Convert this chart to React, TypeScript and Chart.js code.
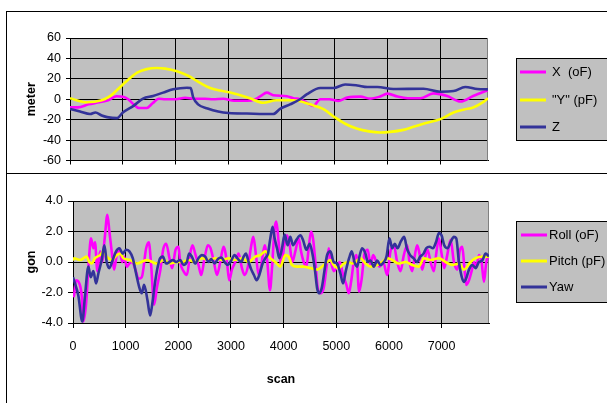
import React, { useEffect, useRef } from "react";
import { Chart, registerables } from "chart.js";

Chart.register(...registerables);

const FONT = 'Arial, "Liberation Sans", sans-serif';

// ---------- Top panel (meter) ----------
const xOF: [number, number][] = [
  [0, -8], [150, -8], [350, -5], [550, -3], [720, -1], [880, 3], [1000, 2.5], [1100, 0], [1200, -5],
  [1300, -8.5], [1450, -8.5], [1560, -4], [1680, 0.5], [1800, 0], [2000, 0], [2175, 1.5], [2350, 0.5],
  [2550, 0.5], [2700, 0], [2900, 0.5], [3100, -1.5], [3350, -1.5], [3500, 0], [3600, 3], [3720, 6.5],
  [3840, 4], [4100, 3], [4220, 1], [4350, 0], [4480, -3.5], [4600, -6.5], [4730, 0], [4900, 0],
  [5070, -1.6], [5240, 1.6], [5490, 2.6], [5670, 0.6], [5850, 2.5], [6000, 5.5], [6190, 2.6], [6380, 1],
  [6620, 1], [6870, 5.8], [7130, 3.2], [7380, -2.2], [7620, 3.2], [7900, 9],
];
const yPF: [number, number][] = [
  [0, 1], [320, -3], [600, -1], [757, 3], [1000, 14.5], [1270, 26], [1450, 29.5], [1640, 30.6],
  [1800, 30], [2020, 27.4], [2230, 23], [2460, 16], [2650, 11], [3030, 6.5], [3400, 1], [3650, -3.5],
  [3900, -1], [4220, -1], [4540, -5], [4800, -10], [5000, -17.5], [5200, -24], [5430, -29],
  [5650, -31.5], [5860, -32.5], [6050, -32], [6300, -30], [6490, -27], [6750, -23], [7000, -19.5],
  [7250, -13], [7450, -10], [7620, -8], [7800, -3], [7900, 1],
];
const zSeries: [number, number][] = [
  [0, -9.5], [190, -12], [380, -14.5], [480, -13], [600, -16], [700, -17.5], [890, -18.5], [1000, -13],
  [1200, -6.5], [1380, 0.7], [1570, 3.2], [1760, 6.5], [1950, 9.7], [2210, 11.3], [2280, 11], [2330, 1.6],
  [2420, -5], [2600, -9], [2800, -12], [3000, -13.5], [3340, -14], [3840, -14.5], [3970, -9.5],
  [4160, -5], [4350, 0], [4480, 5], [4730, 11], [4980, 11], [5200, 14.5], [5430, 13.5], [5620, 12],
  [5810, 12], [6110, 10], [6680, 10.3], [7000, 7.4], [7250, 8], [7470, 12], [7700, 10], [7900, 9.7],
];
const topLabels = ["X  (oF)", '"Y" (pF)', "Z"];
const topTicks = [-60, -40, -20, 0, 20, 40, 60];

// ---------- Bottom panel (gon) ----------
const rollOF: [number, number][] = [
  [0, -2.3], [19, -2.2], [57, -1.2], [120, -1.4], [165, -2.2], [196, -3.9], [247, -2.8], [292, -0.4],
  [342, 1.55], [387, 0.9], [418, 1.3], [463, -0.6], [514, 0.7], [551, 0], [602, 1.55], [653, 3.1],
  [691, 2.0], [735, 0.7], [780, -0.5], [830, 0.45], [881, 0.9], [932, 0], [970, 0.35], [1021, -0.3],
  [1071, -0.1], [1122, 0], [1186, -0.5], [1243, -1.1], [1306, -1.0], [1389, 0.9], [1439, 1.3],
  [1484, -0.2], [1541, -2.8], [1592, -1.7], [1655, -0.6], [1718, 0.9], [1769, 1.2], [1832, 0.25],
  [1883, -0.4], [1947, 0.8], [2004, 1.0], [2035, 0], [2099, -0.6], [2162, -0.85], [2225, 0.55],
  [2270, 1.1], [2320, 0.55], [2384, -0.2], [2435, -0.85], [2498, 0.25], [2561, 1.1], [2612, 0.9],
  [2676, 0], [2733, -0.85], [2796, 0], [2859, 1.0], [2923, 0], [2967, -1.2], [3018, -0.5], [3081, 0],
  [3145, 0.55], [3208, -0.4], [3259, -0.85], [3322, -0.3], [3386, 1.1], [3424, 1.65], [3475, 0.45],
  [3525, -0.85], [3576, -0.2], [3640, 1.1], [3690, 0], [3741, -1.85], [3779, -0.4], [3829, 2.2],
  [3861, 2.65], [3905, 1.3], [3956, -0.2], [4013, 1.1], [4064, 1.75], [4115, 1.1], [4165, 0],
  [4222, 0.7], [4286, 1.55], [4330, 0.7], [4381, 0], [4432, -0.3], [4476, 0.9], [4520, 2.0],
  [4558, 1.55], [4603, 0], [4647, -1.7], [4698, -2.05], [4761, -1.7], [4812, -0.4], [4856, 0.9],
  [4901, 0], [4951, -0.6], [5002, -0.4], [5065, 0], [5129, -0.85], [5192, -1.5], [5237, -2.05],
  [5281, -1.3], [5332, 0], [5383, 0.45], [5433, -1.95], [5484, -1.05], [5535, 0.55], [5598, 0.8],
  [5649, -0.2], [5700, 0.45], [5763, 0], [5826, -0.3], [5890, 0], [5966, -0.85], [6029, 0.7],
  [6092, 1.1], [6156, 0], [6219, -0.6], [6283, 0.45], [6346, 1.1], [6390, 0], [6441, -0.6],
  [6492, 0.45], [6536, 1.1], [6580, 0.55], [6631, -0.5], [6682, 0.25], [6733, 0.8], [6790, 0],
  [6853, -0.6], [6898, 0.55], [6948, 1.55], [6999, 0.55], [7050, -0.4], [7107, 0.45], [7171, 1.45],
  [7234, 0], [7298, -0.5], [7342, 0.7], [7393, 1.0], [7431, -0.3], [7469, -1.5], [7520, -1.2],
  [7570, -0.6], [7615, 0], [7659, -0.3], [7709, 0.45], [7760, 0], [7804, -1.3], [7849, 0], [7899, 0.45],
];
const pitchPF: [number, number][] = [
  [0, 0.1], [19, 0.25], [133, 0.13], [260, 0.35], [310, 0], [355, -0.1], [418, 0.25], [514, 0.45],
  [577, 0.7], [640, 0.35], [735, 0.13], [830, 0.45], [894, 0.55], [957, 0.25], [1084, 0.13],
  [1211, -0.1], [1401, 0.13], [1592, -0.1], [1718, 0.13], [1845, -0.1], [1972, 0], [2067, 0],
  [2194, 0.13], [2320, 0], [2447, 0.25], [2574, 0.13], [2701, 0.25], [2828, 0.13], [2954, 0.25],
  [3081, 0.13], [3208, 0.25], [3335, 0], [3462, 0.35], [3557, 0.45], [3652, 0.7], [3747, 0.25],
  [3842, 0], [3937, -0.3], [4032, 0.45], [4096, 0.35], [4159, -0.2], [4254, -0.3], [4381, -0.3],
  [4508, -0.4], [4635, -0.5], [4730, -0.3], [4825, 0], [4888, 0.13], [4951, -0.2], [5046, -0.4],
  [5142, -0.1], [5237, 0], [5300, -0.1], [5364, 0], [5459, 0.25], [5554, -0.1], [5649, -0.3],
  [5776, -0.2], [5871, 0], [5966, 0.25], [6061, 0.13], [6188, -0.1], [6315, 0], [6441, -0.2],
  [6568, -0.3], [6663, 0.25], [6790, 0.13], [6948, 0.25], [7076, 0], [7203, -0.2], [7329, -0.1],
  [7424, -0.5], [7551, 0], [7646, 0.25], [7773, 0.35], [7899, 0.35],
];
const yaw: [number, number][] = [
  [0, -1.0], [19, -1.2], [101, -2.2], [177, -3.9], [228, -2.2], [292, -0.3], [336, -1.0], [387, -0.6],
  [438, -1.4], [482, -0.75], [545, 0.13], [596, 1.1], [640, 0], [691, -0.4], [754, 0.13], [818, 0.7],
  [881, 0.9], [945, 0.55], [1008, 0.8], [1071, 0.7], [1135, 0.25], [1198, -0.75], [1262, -1.7],
  [1306, -2.05], [1350, -1.5], [1414, -2.5], [1465, -3.5], [1503, -2.8], [1560, -1.3], [1604, -0.4],
  [1655, 0.25], [1706, 0.35], [1769, -0.1], [1832, 0], [1896, 0.13], [1959, 0], [2035, 0.13],
  [2099, -0.2], [2162, 0], [2206, 0.55], [2257, 0.35], [2320, -0.1], [2384, 0.25], [2447, 0.45],
  [2511, 0.35], [2574, 0], [2625, 0.2], [2688, -0.1], [2752, 0.2], [2815, 0.3], [2878, 0],
  [2942, -0.2], [3005, 0.1], [3068, 0.45], [3132, 0.2], [3195, 0], [3240, 0.35], [3284, 0.55],
  [3335, 0], [3386, -0.5], [3436, -0.85], [3487, -1.2], [3538, -0.85], [3601, -0.1], [3652, 0.25],
  [3703, 0.55], [3747, 1.55], [3791, 2.3], [3829, 1.55], [3874, 0.9], [3918, 0.25], [3969, 0.9],
  [4019, 1.8], [4077, 1.1], [4127, 1.65], [4178, 1.1], [4242, 1.45], [4318, 1.75], [4368, 1.45],
  [4432, 0.8], [4495, 1.2], [4546, 0.55], [4597, -0.6], [4635, -1.7], [4673, -2.05], [4724, -1.7],
  [4774, -0.6], [4825, 0.45], [4888, 0.7], [4951, 0], [5015, -0.1], [5078, -0.75], [5129, -1.4],
  [5180, -0.6], [5243, 0.25], [5294, 0.7], [5345, 0], [5395, -0.3], [5446, 0.45], [5491, 0.9],
  [5554, 0.55], [5598, 0], [5649, 0.1], [5712, -0.3], [5776, 0.1], [5839, -0.2], [5903, 0],
  [5953, 0.35], [6010, 1.55], [6061, 0.9], [6111, 1.2], [6162, 0.9], [6226, 1.35], [6289, 1.65],
  [6340, 0.9], [6403, 0.45], [6466, 0.25], [6530, 0], [6593, 0.35], [6657, 0.55], [6707, 0.9],
  [6771, 1.0], [6834, 0.9], [6898, 1.35], [6948, 1.9], [6999, 1.75], [7050, 1.1], [7113, 0.9],
  [7177, 1.35], [7234, 1.65], [7278, 1.55], [7329, 0], [7380, -0.95], [7424, -1.3], [7469, -1.05],
  [7520, -0.5], [7583, -0.2], [7646, -0.4], [7709, 0], [7772, 0.1], [7836, 0.55], [7899, 0.35],
];
const bottomLabels = ["Roll (oF)", "Pitch (pF)", "Yaw"];
const bottomTicks = [-4, -2, 0, 2, 4];
const scanTicks = [0, 1000, 2000, 3000, 4000, 5000, 6000, 7000];
const scanMax = 7900;

const COLORS = ["#ff00ff", "#ffff00", "#333399"];

const toXY = (pairs: [number, number][]) => pairs.map(([x, y]) => ({ x, y }));

const plotBg = {
  id: "plotBg",
  beforeDraw(chart: any) {
    const { ctx, chartArea: a } = chart;
    ctx.save();
    ctx.fillStyle = "#c0c0c0";
    ctx.fillRect(a.left, a.top, a.right - a.left, a.bottom - a.top);
    ctx.restore();
  },
  beforeDatasetsDraw(chart: any) {
    const { ctx, chartArea: a } = chart;
    ctx.save();
    ctx.strokeStyle = "#808080";
    ctx.lineWidth = 1;
    ctx.beginPath();
    ctx.moveTo(a.right - 0.5, a.top);
    ctx.lineTo(a.right - 0.5, a.bottom);
    ctx.stroke();
    ctx.restore();
  },
};

const boxLegend = {
  id: "boxLegend",
  afterDraw(chart: any, _args: any, o: any) {
    const { ctx } = chart;
    ctx.save();
    ctx.fillStyle = "#c0c0c0";
    ctx.fillRect(o.x, o.y, o.w, o.h);
    ctx.strokeStyle = "#000";
    ctx.lineWidth = 1;
    ctx.strokeRect(o.x + 0.5, o.y + 0.5, o.w, o.h);
    ctx.font = `13px ${FONT}`;
    ctx.textBaseline = "middle";
    ctx.textAlign = "left";
    chart.data.datasets.forEach((ds: any, i: number) => {
      const y = o.rows[i];
      ctx.strokeStyle = ds.borderColor;
      ctx.lineWidth = 3;
      ctx.beginPath();
      ctx.moveTo(o.lx0, y);
      ctx.lineTo(o.lx1, y);
      ctx.stroke();
      ctx.fillStyle = "#000";
      ctx.fillText(ds.label, o.tx, y);
    });
    ctx.restore();
  },
};

function makeDatasets(labels: string[], series: [number, number][][]) {
  return series.map((s, i) => ({
    label: labels[i],
    data: toXY(s),
    borderColor: COLORS[i],
    backgroundColor: COLORS[i],
    borderWidth: 2.6,
    pointRadius: 0,
    cubicInterpolationMode: "monotone",
    fill: false,
    order: 3 - i,
  }));
}

function xScale(showLabels: boolean, height: number, tickLen: number) {
  return {
    type: "linear",
    min: 0,
    max: scanMax,
    afterBuildTicks: (s: any) => {
      s.ticks = scanTicks.map((v) => ({ value: v }));
    },
    afterFit: (s: any) => {
      s.height = height;
    },
    grid: { color: "#000", lineWidth: 1, tickLength: tickLen, drawTicks: true },
    border: { color: "#000", width: 1 },
    ticks: {
      display: showLabels,
      color: "#000",
      font: { family: FONT, size: 12.5 },
      padding: 11,
      maxRotation: 0,
      autoSkip: false,
      callback: (v: any) => String(v),
    },
    title: showLabels
      ? {
          display: true,
          text: "scan",
          color: "#000",
          font: { family: FONT, size: 12.5, weight: "bold" },
          padding: { top: 0, bottom: 16 },
        }
      : { display: false },
  };
}

function yScale(min: number, max: number, ticks: number[], width: number, title: string, fmt: (v: number) => string, tickLen: number) {
  return {
    type: "linear",
    min,
    max,
    afterBuildTicks: (s: any) => {
      s.ticks = ticks.map((v) => ({ value: v }));
    },
    afterFit: (s: any) => {
      s.width = width;
    },
    grid: { color: "#000", lineWidth: 1, tickLength: tickLen, drawTicks: true },
    border: { color: "#000", width: 1 },
    ticks: {
      color: "#000",
      font: { family: FONT, size: 12.5 },
      padding: 5,
      autoSkip: false,
      callback: (v: any) => fmt(Number(v)),
    },
    title: {
      display: true,
      text: title,
      color: "#000",
      font: { family: FONT, size: 12.5, weight: "bold" },
      padding: { top: 24, bottom: 0 },
    },
  };
}

export default function App() {
  const topRef = useRef<HTMLCanvasElement>(null);
  const botRef = useRef<HTMLCanvasElement>(null);

  useEffect(() => {
    const top = new Chart(topRef.current!, {
      type: "line",
      data: { datasets: makeDatasets(topLabels, [xOF, yPF, zSeries]) as any },
      options: {
        animation: false,
        responsive: false,
        layout: { padding: { left: 0, right: 119, top: 26, bottom: 0 } },
        scales: {
          x: xScale(false, 11, 4) as any,
          y: yScale(-60, 60, topTicks, 70, "meter", (v) => String(v), 4) as any,
        },
        plugins: {
          legend: { display: false },
          tooltip: { enabled: false },
          boxLegend: { x: 516, y: 46, w: 110, h: 82, rows: [60, 88, 115], lx0: 520, lx1: 546, tx: 552 },
        } as any,
      },
      plugins: [plotBg, boxLegend],
    });
    const bot = new Chart(botRef.current!, {
      type: "line",
      data: { datasets: makeDatasets(bottomLabels, [rollOF, pitchPF, yaw]) as any },
      options: {
        animation: false,
        responsive: false,
        layout: { padding: { left: 0, right: 118, top: 25, bottom: 0 } },
        scales: {
          x: xScale(true, 80, 5) as any,
          y: yScale(-4, 4, bottomTicks, 73, "gon", (v) => v.toFixed(1), 5) as any,
        },
        plugins: {
          legend: { display: false },
          tooltip: { enabled: false },
          boxLegend: { x: 516, y: 45, w: 110, h: 81, rows: [59, 85, 111], lx0: 521, lx1: 547, tx: 549 },
        } as any,
      },
      plugins: [plotBg, boxLegend],
    });
    return () => {
      top.destroy();
      bot.destroy();
    };
  }, []);

  return (
    <div
      style={{
        position: "absolute",
        left: 0,
        top: 0,
        width: 607,
        height: 403,
        overflow: "hidden",
        background: "#fff",
      }}
    >
      <div
        style={{
          position: "absolute",
          left: 6,
          top: 11,
          width: 640,
          height: 163,
          border: "1px solid #000",
          boxSizing: "border-box",
        }}
      />
      <div
        style={{
          position: "absolute",
          left: 6,
          top: 173,
          width: 640,
          height: 260,
          border: "1px solid #000",
          boxSizing: "border-box",
        }}
      />
      <canvas
        ref={topRef}
        width={607}
        height={161}
        style={{ position: "absolute", left: 0, top: 12, width: 607, height: 161, display: "block" }}
      />
      <canvas
        ref={botRef}
        width={607}
        height={227}
        style={{ position: "absolute", left: 0, top: 176, width: 607, height: 227, display: "block" }}
      />
    </div>
  );
}
